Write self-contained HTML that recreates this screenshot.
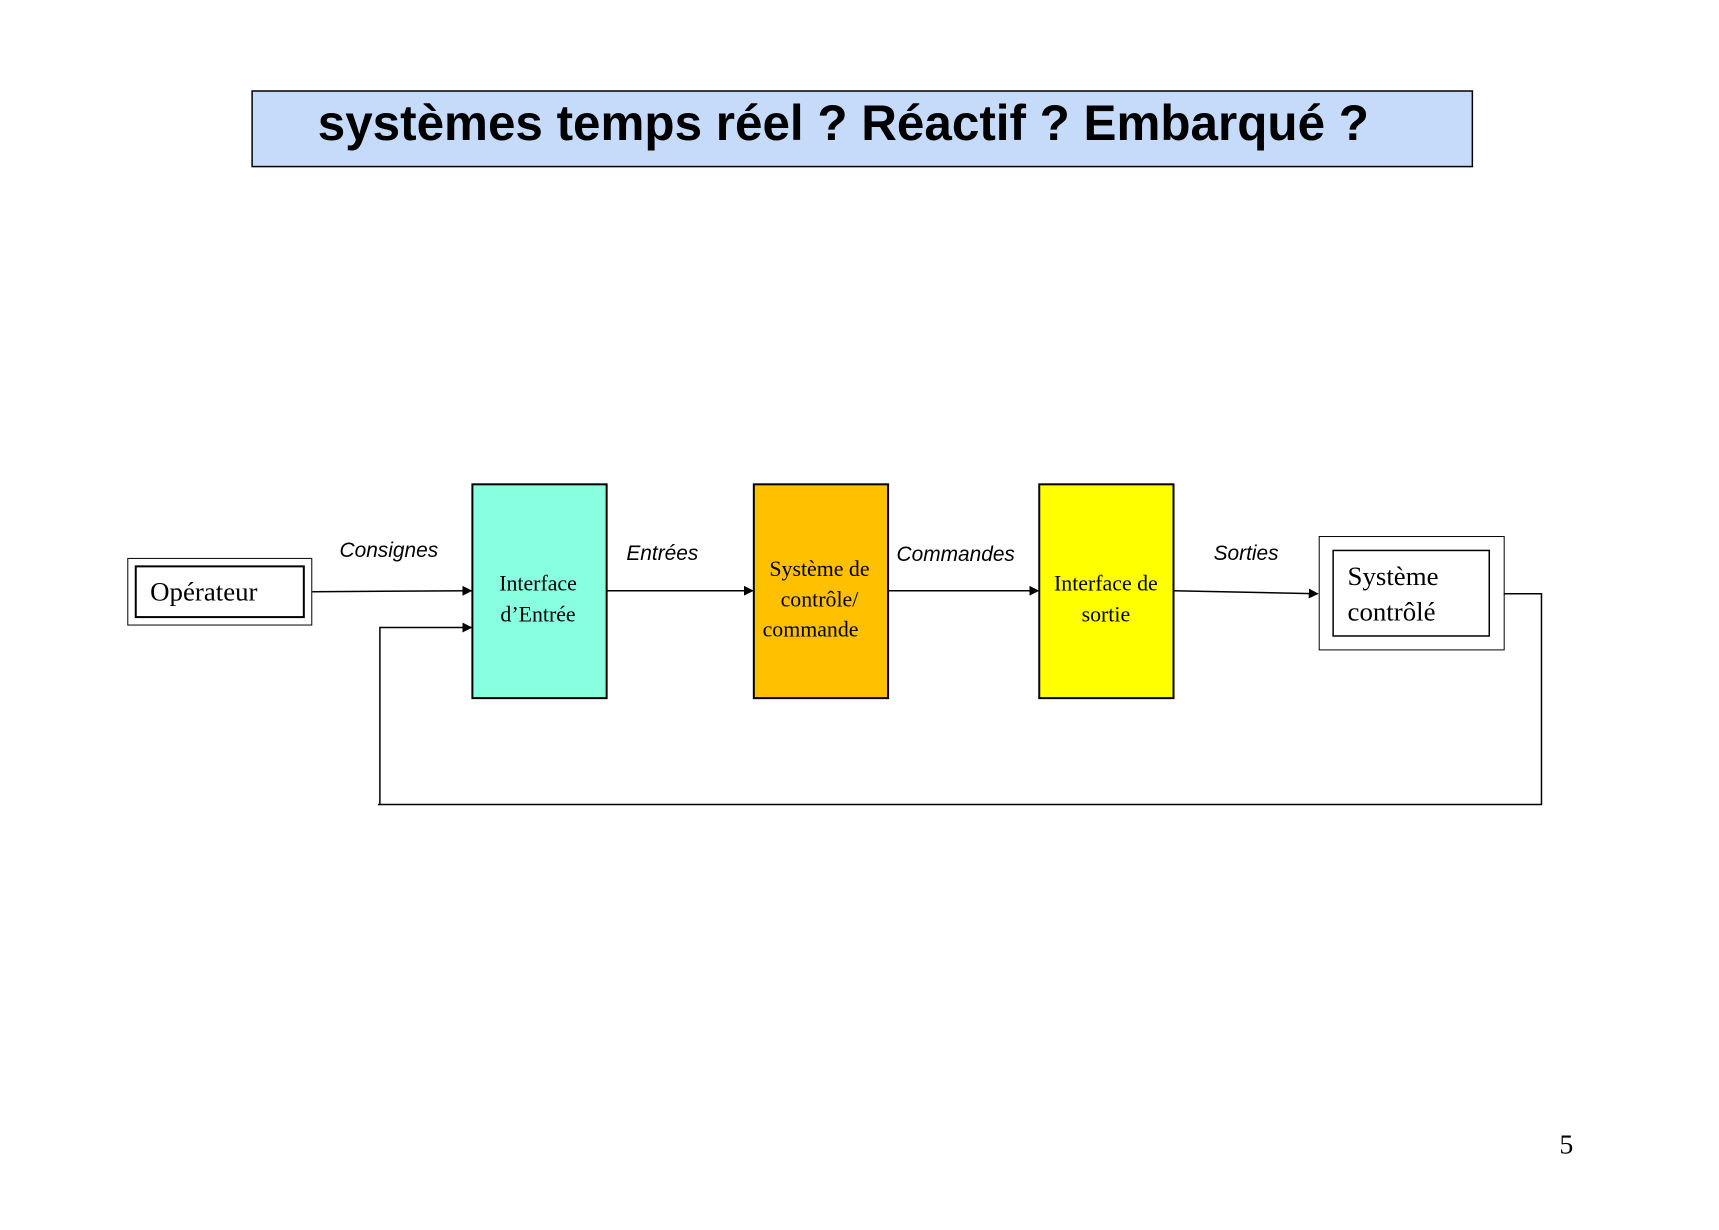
<!DOCTYPE html>
<html><head><meta charset="utf-8"><style>
html,body{margin:0;padding:0;background:#fff;}
body{width:1719px;height:1225px;overflow:hidden;}
</style></head><body>
<svg width="1719" height="1225" viewBox="0 0 1719 1225" xmlns="http://www.w3.org/2000/svg">
<defs><marker id="a" markerWidth="10" markerHeight="10" refX="9" refY="5" orient="auto" markerUnits="userSpaceOnUse"><path d="M0,0 L10,5 L0,10 z" fill="#000"/></marker></defs>
<g transform="scale(0.9945)">
<rect x="253.5" y="91.5" width="1227" height="76" fill="#C6DAFA" stroke="#000" stroke-width="1.5"/>
<text x="848" y="141" text-anchor="middle" font-family="Liberation Sans, sans-serif" font-weight="bold" font-size="50" textLength="1057" lengthAdjust="spacingAndGlyphs">systèmes temps réel ? Réactif ? Embarqué ?</text>
<rect x="128.5" y="561.5" width="185" height="67" fill="#fff" stroke="#000" stroke-width="1"/>
<rect x="136.5" y="569.5" width="169" height="51" fill="#fff" stroke="#000" stroke-width="2"/>
<text x="151" y="604" font-family="Liberation Serif, serif" font-size="27">Opérateur</text>
<rect x="475" y="487" width="135" height="215" fill="#88FFDF" stroke="#000" stroke-width="2"/>
<rect x="758" y="487" width="135" height="215" fill="#FFC000" stroke="#000" stroke-width="2"/>
<rect x="1045" y="487" width="135" height="215" fill="#FFFF00" stroke="#000" stroke-width="2"/>
<g font-family="Liberation Serif, serif" font-size="22" text-anchor="middle">
<text x="541" y="594">Interface</text><text x="541" y="625">d’Entrée</text>
<text x="824" y="579">Système de</text><text x="824" y="610">contrôle/</text><text x="815" y="640">commande</text>
<text x="1112" y="594">Interface de</text><text x="1112" y="625">sortie</text>
</g>
<rect x="1326.5" y="539.5" width="186" height="114" fill="#fff" stroke="#000" stroke-width="1"/>
<rect x="1340.5" y="553.5" width="157" height="86" fill="#fff" stroke="#000" stroke-width="1.5"/>
<text x="1355" y="588" font-family="Liberation Serif, serif" font-size="27">Système</text>
<text x="1355" y="624" font-family="Liberation Serif, serif" font-size="27">contrôlé</text>
<g stroke="#000" stroke-width="1.5" fill="none">
<line x1="314" y1="595" x2="474" y2="594" marker-end="url(#a)"/>
<line x1="610" y1="594" x2="757" y2="594" marker-end="url(#a)"/>
<line x1="893" y1="594" x2="1044" y2="594" marker-end="url(#a)"/>
<line x1="1180" y1="594" x2="1325" y2="597" marker-end="url(#a)"/>
<polyline points="1512,597 1550,597 1550,809 380,809"/>
<polyline points="382,809 382,631 474,631" marker-end="url(#a)"/>
</g>
<g font-family="Liberation Sans, sans-serif" font-style="italic" font-size="21" text-anchor="middle">
<text x="391" y="560">Consignes</text>
<text x="666" y="563">Entrées</text>
<text x="961" y="564">Commandes</text>
<text x="1253" y="563">Sorties</text>
</g>
<text x="1575" y="1160" text-anchor="middle" font-family="Liberation Serif, serif" font-size="28">5</text>
</g>
</svg>
</body></html>
